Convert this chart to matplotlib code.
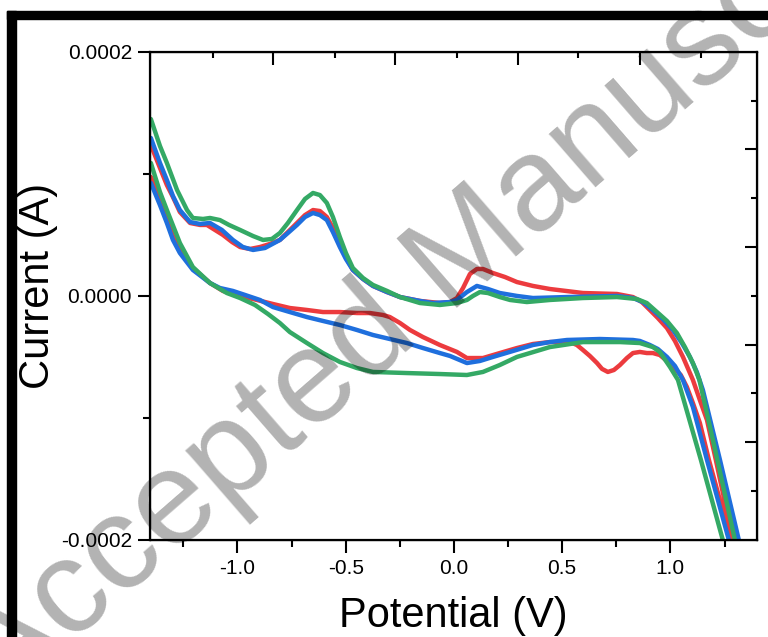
import numpy as np
import matplotlib
matplotlib.use('Agg')
import matplotlib.pyplot as plt
from matplotlib.patches import Rectangle

plt.rcParams['font.family'] = ['Liberation Sans', 'DejaVu Sans']

# potential in V, current in units of 1e-5 A
red_up_v = [-1.400, -1.358, -1.326, -1.298, -1.266, -1.219, -1.173, -1.141, -1.104, -1.067, -1.025,
            -0.988, -0.942, -0.896, -0.850, -0.804, -0.767, -0.725, -0.688, -0.651, -0.619, -0.587,
            -0.559, -0.527, -0.499, -0.467, -0.420, -0.374, -0.309, -0.249, -0.157, -0.065, -0.018,
            0.014, 0.042, 0.074, 0.106, 0.134, 0.180, 0.236, 0.291, 0.365, 0.443, 0.596, 0.753,
            0.827, 0.868, 0.905, 0.942, 0.984, 1.021, 1.058, 1.104, 1.136, 1.169, 1.210, 1.289, 1.312]
red_up_i = [12.35, 10.47, 9.07, 8.09, 6.86, 5.96, 5.80, 5.80, 5.39, 4.98, 4.40,
            3.99, 3.83, 3.99, 4.24, 4.57, 5.22, 5.96, 6.61, 7.02, 6.94, 6.45,
            5.55, 4.32, 3.17, 2.11, 1.37, 0.80, 0.30, -0.11, -0.43, -0.60, -0.52,
            -0.19, 0.63, 1.78, 2.19, 2.19, 1.86, 1.53, 1.12, 0.80, 0.55, 0.22, 0.14,
            -0.11, -0.52, -1.17, -1.83, -2.65, -3.71, -5.02, -6.91, -8.55, -10.19, -13.47, -20.02, -21.66]
red_dn_v = [1.302, 1.279, 1.178, 1.136, 1.104, 1.076, 1.048, 1.012, 0.984, 0.951, 0.919, 0.891,
            0.859, 0.827, 0.799, 0.767, 0.739, 0.711, 0.684, 0.661, 0.628, 0.596, 0.568, 0.536,
            0.443, 0.365, 0.291, 0.212, 0.134, 0.060, 0.014, -0.065, -0.143, -0.203, -0.249,
            -0.296, -0.328, -0.388, -0.448, -0.527, -0.605, -0.679, -0.758, -0.836, -0.910,
            -0.988, -1.067, -1.127, -1.206, -1.266, -1.298, -1.326, -1.358, -1.400]
red_dn_i = [-21.66, -20.02, -13.47, -10.43, -8.80, -7.48, -6.50, -5.84, -5.35, -4.86, -4.70, -4.70,
            -4.61, -4.70, -5.11, -5.68, -6.09, -6.25, -6.00, -5.52, -4.94, -4.45, -4.04, -3.80,
            -3.80, -3.96, -4.29, -4.70, -5.11, -5.11, -4.61, -4.04, -3.39, -2.81, -2.24,
            -1.75, -1.58, -1.42, -1.42, -1.34, -1.34, -1.17, -1.01, -0.68, -0.35,
            -0.02, 0.39, 1.04, 2.27, 3.75, 4.89, 6.37, 8.01, 9.73]

blue_up_v = [-1.400, -1.358, -1.326, -1.298, -1.266, -1.219, -1.173, -1.127, -1.072, -1.021, -0.975,
             -0.928, -0.873, -0.804, -0.767, -0.725, -0.688, -0.651, -0.619, -0.587, -0.559, -0.527,
             -0.499, -0.467, -0.420, -0.374, -0.309, -0.249, -0.157, -0.097, -0.018, 0.014, 0.060,
             0.106, 0.157, 0.212, 0.291, 0.365, 0.522, 0.753, 0.827, 0.873, 0.919, 0.965, 1.012,
             1.053, 1.090, 1.122, 1.150, 1.229, 1.316, 1.339]
blue_up_i = [12.93, 10.88, 9.48, 8.17, 7.02, 6.04, 5.88, 5.96, 5.39, 4.57, 3.99,
             3.75, 3.91, 4.57, 5.14, 5.80, 6.45, 6.78, 6.61, 6.20, 5.22, 3.99,
             3.01, 2.11, 1.37, 0.80, 0.30, -0.11, -0.43, -0.60, -0.52, -0.35, 0.30,
             0.80, 0.55, 0.22, -0.02, -0.19, -0.11, -0.02, -0.19, -0.52, -1.17, -1.91, -2.81,
             -3.88, -5.02, -6.25, -7.73, -13.47, -20.02, -21.66]
blue_dn_v = [1.293, 1.270, 1.169, 1.104, 1.058, 1.021, 0.984, 0.942, 0.905, 0.859, 0.827, 0.674,
             0.522, 0.443, 0.365, 0.273, 0.180, 0.120, 0.060, -0.018, -0.065, -0.143, -0.217,
             -0.296, -0.374, -0.448, -0.527, -0.605, -0.679, -0.758, -0.836, -0.896, -0.965,
             -1.021, -1.081, -1.127, -1.206, -1.266, -1.298, -1.326, -1.358, -1.400]
blue_dn_i = [-21.66, -20.02, -13.47, -9.12, -6.91, -5.76, -5.02, -4.37, -4.04, -3.71, -3.63, -3.55,
             -3.63, -3.80, -4.04, -4.53, -5.02, -5.35, -5.52, -4.94, -4.70, -4.29, -3.88,
             -3.55, -3.22, -2.81, -2.40, -2.07, -1.75, -1.34, -0.93, -0.35, 0.06,
             0.39, 0.63, 1.04, 2.11, 3.50, 4.57, 5.96, 7.43, 9.24]

green_up_v = [-1.400, -1.358, -1.326, -1.279, -1.233, -1.206, -1.159, -1.127, -1.081, -1.039, -0.988,
              -0.928, -0.882, -0.841, -0.804, -0.767, -0.725, -0.688, -0.651, -0.619, -0.587, -0.559,
              -0.527, -0.499, -0.467, -0.420, -0.374, -0.309, -0.249, -0.157, -0.065, 0.014, 0.060,
              0.088, 0.120, 0.157, 0.212, 0.259, 0.337, 0.443, 0.596, 0.753, 0.845, 0.891, 0.938,
              0.984, 1.030, 1.067, 1.104, 1.134, 1.217, 1.298, 1.321]
green_up_i = [14.48, 12.27, 10.88, 8.66, 7.02, 6.37, 6.29, 6.37, 6.20, 5.80, 5.39,
              4.89, 4.57, 4.65, 5.14, 5.96, 7.02, 7.93, 8.42, 8.25, 7.60, 6.45,
              4.81, 3.50, 2.27, 1.45, 0.88, 0.39, -0.11, -0.60, -0.76, -0.60, -0.35,
              -0.02, 0.30, 0.22, -0.11, -0.35, -0.52, -0.35, -0.19, -0.11, -0.27, -0.60, -1.34,
              -2.07, -3.06, -4.21, -5.52, -6.91, -13.47, -20.02, -21.66]
green_dn_v = [1.266, 1.242, 1.141, 1.035, 0.998, 0.951, 0.919, 0.859, 0.767, 0.596, 0.443, 0.291,
              0.212, 0.134, 0.060, -0.065, -0.217, -0.374, -0.448, -0.527, -0.605, -0.679, -0.758,
              -0.804, -0.859, -0.919, -0.988, -1.049, -1.127, -1.206, -1.266, -1.326, -1.358, -1.400]
green_dn_i = [-21.66, -20.02, -13.47, -6.91, -5.84, -4.61, -4.21, -3.88, -3.80, -3.80, -4.21, -5.02,
              -5.68, -6.25, -6.50, -6.42, -6.34, -6.25, -5.93, -5.43, -4.70, -3.88, -2.98,
              -2.24, -1.50, -0.76, -0.19, 0.22, 1.04, 2.35, 4.32, 7.02, 8.50, 10.88]

series = [
    (red_up_v, red_up_i, red_dn_v, red_dn_i, '#ec3b3e'),
    (blue_up_v, blue_up_i, blue_dn_v, blue_dn_i, '#1f6fdd'),
    (green_up_v, green_up_i, green_dn_v, green_dn_i, '#34a965'),
]

fig = plt.figure(figsize=(7.68, 6.37), dpi=100)
ax = fig.add_axes([150/768, 1 - 539.7/637, 607/768, 488/637])

for uv, ui, dv, di, c in series:
    v = np.array(uv + dv)
    i = np.array(ui + di) * 1e-5
    ax.plot(v, i, color=c, lw=3.2, solid_joinstyle='round', solid_capstyle='round')

ax.set_xlim(-1.404, 1.40)
ax.set_ylim(-0.0002, 0.0002)
ax.set_xticks([-1.0, -0.5, 0.0, 0.5, 1.0])
ax.set_xticks([-1.25, -0.75, -0.25, 0.25, 0.75, 1.25], minor=True)
ax.set_yticks([-0.0002, 0.0, 0.0002])
ax.set_yticks([-0.0001, 0.0001], minor=True)
ax.set_yticklabels(['-0.0002', '0.0000', '0.0002'])
ax.set_xticklabels(['-1.0', '-0.5', '0.0', '0.5', '1.0'])
ax.tick_params(which='major', direction='out', length=9, width=1.5, labelsize=15)
ax.tick_params(axis='x', which='major', pad=5)
ax.tick_params(axis='y', which='major', pad=4)
ax.tick_params(which='minor', direction='out', length=5, width=1.5)
for s in ax.spines.values():
    s.set_linewidth(1.6)

# inward ticks on the right and top
axr = ax.twinx()
axr.set_ylim(ax.get_ylim())
axr.set_yticks([0.00012, 0.00004, -0.00004, -0.00012])
axr.set_yticks([0.00016, 0.00008, 0.0, -0.00008, -0.00016], minor=True)
axr.tick_params(which='major', direction='in', length=9, width=1.5, labelright=False)
axr.tick_params(which='minor', direction='in', length=4, width=1.5)
axt = ax.twiny()
axt.set_xlim(ax.get_xlim())
axt.set_xticks([-0.835, -0.27, 0.295, 0.86])
axt.set_xticks([-1.115, -0.55, 0.015, 0.575, 1.14], minor=True)
axt.tick_params(which='major', direction='in', length=9, width=1.5, labeltop=False)
axt.tick_params(which='minor', direction='in', length=4, width=1.5)

ax.set_xlabel('Potential (V)', fontsize=30)
ax.xaxis.set_label_coords(0.5, -0.115)
ax.set_ylabel('Current (A)', fontsize=30)
ax.yaxis.set_label_coords(-0.152, 0.521)

# frame from the page
fig.patches.append(Rectangle((7/768, 0), 9/768, 1 - 11/637, transform=fig.transFigure,
                             color='black', zorder=10))
fig.patches.append(Rectangle((7/768, 1 - 19/637), 1, 8/637, transform=fig.transFigure,
                             color='black', zorder=10))

fig.text(0.585, 0.578, 'Accepted Manuscript', fontsize=96, color='black', alpha=0.3,
         rotation=41, ha='center', va='center', rotation_mode='anchor', zorder=20)

fig.savefig('out.png', dpi=100)
